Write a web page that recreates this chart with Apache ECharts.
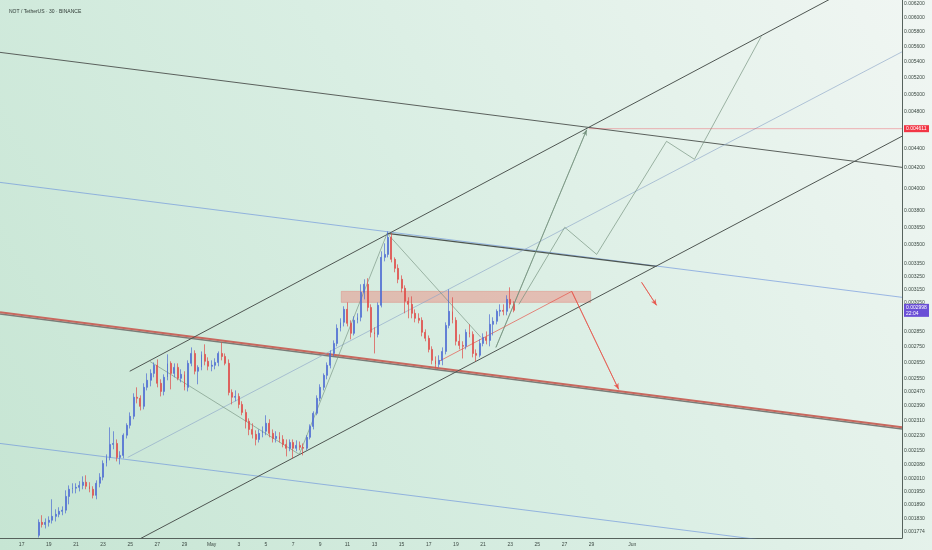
<!DOCTYPE html>
<html><head><meta charset="utf-8">
<script src="https://cdn.jsdelivr.net/npm/echarts@6.0.0/dist/echarts.min.js"></script>
<style>html,body{margin:0;padding:0;width:932px;height:550px;overflow:hidden}#c{width:932px;height:550px}</style>
</head><body><div id="c"></div>
<script>
// ---- chart data (prices are in millionths of USDT) ----
const TITLE = 'NOT / TetherUS · 30 · BINANCE';
const PRICE_UNIT = 1e-6;
const candleStart = '2025-04-18T06:00:00Z';
const candleHours = 6;
// [open, close, low, high]
const candles = [
[1759,1814,1750,1827],[1814,1805,1792,1845],[1805,1814,1788,1831],[1814,1823,1796,1840],[1823,1840,1809,1916],
[1840,1849,1818,1871],[1849,1862,1836,1880],[1862,1867,1845,1884],[1867,1929,1853,1957],[1929,1962,1893,1980],
[1962,1967,1943,1990],[1967,1971,1943,1990],[1971,1980,1952,2000],[1980,1995,1962,2023],[1995,1976,1962,2028],
[1976,1962,1948,1995],[1962,1934,1920,1976],[1934,1990,1916,2004],[1990,2019,1971,2038],[2019,2086,2004,2101],
[2086,2116,2071,2131],[2116,2182,2101,2272],[2182,2187,2157,2251],[2187,2116,2096,2208],[2116,2126,2081,2147],
[2126,2230,2111,2240],[2230,2283,2213,2294],[2283,2332,2266,2354],[2332,2440,2316,2463],[2440,2434,2405,2498],
[2434,2388,2365,2451],[2388,2498,2371,2522],[2498,2540,2480,2582],[2540,2582,2504,2607],[2582,2632,2558,2650],
[2632,2522,2498,2669],[2522,2474,2445,2546],[2474,2558,2451,2576],[2558,2644,2540,2701],[2644,2582,2486,2657],
[2582,2619,2558,2644],[2619,2552,2540,2644],[2552,2576,2528,2607],[2576,2498,2480,2595],[2498,2644,2474,2663],
[2644,2707,2626,2746],[2707,2595,2576,2727],[2595,2619,2516,2632],[2619,2701,2601,2720],[2701,2657,2632,2766],
[2657,2626,2601,2682],[2626,2632,2595,2663],[2632,2650,2607,2676],[2650,2707,2626,2720],[2707,2688,2663,2779],
[2688,2644,2632,2707],[2644,2468,2451,2669],[2468,2440,2399,2486],[2440,2445,2417,2480],[2445,2399,2377,2463],
[2399,2354,2338,2417],[2354,2305,2266,2371],[2305,2261,2230,2321],[2261,2235,2213,2294],[2235,2208,2177,2256],
[2208,2240,2192,2261],[2240,2251,2219,2277],[2251,2294,2230,2338],[2294,2240,2219,2316],[2240,2213,2192,2261],
[2213,2224,2192,2251],[2224,2208,2192,2246],[2208,2182,2167,2230],[2182,2162,2121,2208],[2162,2192,2147,2208],
[2192,2162,2111,2208],[2162,2177,2147,2203],[2177,2167,2152,2197],[2167,2162,2126,2187],[2162,2219,2152,2230],
[2219,2277,2208,2288],[2277,2349,2261,2360],[2349,2434,2338,2451],[2434,2498,2417,2516],[2498,2570,2480,2582],
[2570,2632,2546,2650],[2632,2707,2613,2727],[2707,2772,2688,2792],[2772,2873,2753,2900],[2873,2914,2852,2942],
[2914,3005,2886,3027],[3005,2907,2886,3055],[2907,2839,2799,2928],[2839,2928,2825,2956],[2928,2949,2907,2977],
[2949,3129,2921,3189],[3129,3189,3077,3227],[3189,3019,2991,3235],[3019,2846,2812,3041],[2846,2832,2707,2880],
[2832,3034,2812,3055],[3034,3399,3019,3448],[3399,3423,3367,3514],[3423,3564,3399,3615],[3564,3383,3359,3598],
[3383,3312,3281,3399],[3312,3227,3197,3343],[3227,3159,3129,3257],[3159,3063,2977,3181],[3063,3041,2942,3092],
[3041,2977,2942,3099],[2977,2942,2914,3005],[2942,2928,2907,2977],[2928,2846,2819,2949],[2846,2806,2786,2866],
[2806,2733,2714,2825],[2733,2663,2638,2753],[2663,2638,2613,2688],[2638,2663,2619,2695],[2663,2720,2632,2746],
[2720,2893,2701,2914],[2893,2991,2873,3151],[2991,2928,2907,3092],[2928,2786,2759,2949],[2786,2759,2733,2832],
[2759,2753,2675,2786],[2753,2846,2733,2866],[2846,2832,2812,2900],[2832,2707,2682,2852],[2707,2695,2657,2733],
[2695,2772,2682,2799],[2772,2812,2753,2839],[2812,2792,2766,2852],[2792,2900,2753,2970],[2900,2921,2825,2949],
[2921,2991,2900,3005],[2991,2998,2956,3041],[2998,2991,2963,3041],[2991,3077,2963,3107],[3077,3041,3012,3166],
[3041,2998,2984,3063]
];
const currentPrice = 2998;
const countdown = '22:04';
const tpPrice = 4611;

// axes
const xRange = ['2025-04-15T09:42:00Z', '2025-06-20T21:00:00Z'];
const yRange = [1748, 6255];
const yTickValues = [6200,6000,5800,5600,5400,5200,5000,4800,4611,4400,4200,4000,3800,3650,3500,3350,3250,3150,3050,2998,2850,2750,2650,2550,2470,2390,2310,2230,2150,2080,2010,1950,1890,1830,1774];
const xTickDates = ['2025-04-17','2025-04-19','2025-04-21','2025-04-23','2025-04-25','2025-04-27','2025-04-29','2025-05-01','2025-05-03','2025-05-05','2025-05-07','2025-05-09','2025-05-11','2025-05-13','2025-05-15','2025-05-17','2025-05-19','2025-05-21','2025-05-23','2025-05-25','2025-05-27','2025-05-29','2025-06-01'];
const xTickLabels = ['17','19','21','23','25','27','29','May','3','5','7','9','11','13','15','17','19','21','23','25','27','29','Jun'];

// drawings: [time, price] points
const upperChannel = [['2025-04-24T23:07:00Z', 2595], ['2025-06-20T21:00:00Z', 6863]];
const lowerChannel = [['2025-04-24T19:35:00Z', 1718], ['2025-06-20T21:00:00Z', 4529]];
const channelMid   = [['2025-04-24T19:35:00Z', 2116], ['2025-06-20T21:00:00Z', 5532]];
const trendTop     = [['2025-04-15T09:42:00Z', 5525], ['2025-06-20T21:00:00Z', 4207]];
const trendBlue    = [['2025-04-15T09:42:00Z', 4060], ['2025-06-20T21:00:00Z', 3092]];
const trendBlueDark= [['2025-05-13T22:25:00Z', 3598], ['2025-06-02T18:53:00Z', 3327]];
const trendRed     = [['2025-04-15T09:42:00Z', 2984], ['2025-06-20T21:00:00Z', 2272]];
const trendRedEdge = [['2025-04-15T09:42:00Z', 2972], ['2025-06-20T21:00:00Z', 2263]];
const trendLow     = [['2025-04-15T09:42:00Z', 2187], ['2025-06-20T21:00:00Z', 1668]];
const patternLine  = [['2025-04-26T10:25:00Z', 2657], ['2025-05-07T11:07:00Z', 2131], ['2025-05-13T22:25:00Z', 3598], ['2025-05-20T20:18:00Z', 2812]];
const projectionA  = [['2025-05-21T22:47:00Z', 2746], ['2025-05-28T15:22:00Z', 4600]];
const projectionB  = [['2025-05-23T15:22:00Z', 3041], ['2025-05-27T00:32:00Z', 3650], ['2025-05-29T09:00:00Z', 3423], ['2025-06-03T12:32:00Z', 4475], ['2025-06-05T13:57:00Z', 4288], ['2025-06-10T12:10:00Z', 5739]];
const bearPath     = [['2025-05-17T18:10:00Z', 2657], ['2025-05-27T12:53:00Z', 3136], ['2025-05-30T23:50:00Z', 2486]];
const bearArrow    = [['2025-06-01T16:25:00Z', 3204], ['2025-06-02T18:53:00Z', 3034]];
const tpLevel      = [['2025-05-28T18:53:00Z', tpPrice], ['2025-06-20T21:00:00Z', tpPrice]];
const tpText       = ['2025-05-28T03:00:00Z', 4748];
const resistanceZone = [['2025-05-10T13:14:00Z', 3136], ['2025-05-28T22:25:00Z', 3055]];

// ---- build ----
const T = s => Date.parse(s);
const pts = arr => arr.map(p => [T(p[0]), p[1]]);
const start = T(candleStart);
const candleData = candles.map((c, i) => [start + i * candleHours * 3600000, c[0], c[1], c[2], c[3]]);
const xTickTimes = xTickDates.map(d => T(d + 'T00:00:00Z'));
const xLabelMap = {};
xTickTimes.forEach((t, i) => { xLabelMap[t] = xTickLabels[i]; });

function lineSeries(name, arr, color, width, extra) {
  return Object.assign({
    name, type: 'line', data: pts(arr), showSymbol: false, symbol: 'none', silent: true,
    lineStyle: { color, width }, z: 3, animation: false, clip: true
  }, extra || {});
}
function arrowHead(arr, color, width) {
  const n = arr.length;
  return {
    silent: true, symbol: ['none', 'arrow'], symbolSize: [4, 6], animation: false,
    label: { show: false }, lineStyle: { color, width, type: 'solid' },
    data: [[{ coord: [T(arr[n - 2][0]), arr[n - 2][1]] }, { coord: [T(arr[n - 1][0]), arr[n - 1][1]] }]]
  };
}

const chart = echarts.init(document.getElementById('c'), null, { renderer: 'canvas' });
const option = {
  animation: false,
  backgroundColor: { type: 'linear', x: 1, y: 0, x2: 0, y2: 1, colorStops: [
    { offset: 0, color: '#f1f6f3' }, { offset: 0.5, color: '#d9eee3' }, { offset: 1, color: '#c6e5d3' } ] },
  title: { text: TITLE, left: 4, top: 4, textStyle: { fontSize: 5, fontWeight: 'normal', color: '#2f3a35', fontFamily: 'Liberation Sans' } },
  grid: { left: 0, right: 28, top: 0, bottom: 12, containLabel: false },
  xAxis: {
    type: 'value', min: T(xRange[0]), max: T(xRange[1]),
    axisLine: { show: true, lineStyle: { color: '#56625c', width: 1 } },
    axisTick: { show: false }, splitLine: { show: false },
    axisLabel: { customValues: xTickTimes, formatter: v => xLabelMap[v] || '', fontSize: 5, color: '#3d4a44', margin: 4, fontFamily: 'Liberation Sans' }
  },
  yAxis: {
    type: 'log', position: 'right', min: yRange[0], max: yRange[1],
    axisLine: { show: true, lineStyle: { color: '#56625c', width: 1 } },
    axisTick: { show: false }, splitLine: { show: false },
    axisLabel: {
      customValues: yTickValues, fontSize: 5, color: '#3d4a44', margin: 2, fontFamily: 'Liberation Sans',
      formatter: v => {
        const s = (v * PRICE_UNIT).toFixed(6);
        if (Math.abs(v - tpPrice) < 0.5) return '{tp|' + s + '}';
        if (Math.abs(v - currentPrice) < 0.5) return '{cur|' + s + '}\n{cur|' + countdown + '}';
        return s;
      },
      rich: {
        tp: { backgroundColor: '#f23645', color: '#fff', padding: [1, 2], fontSize: 5, width: 21, fontFamily: 'Liberation Sans' },
        cur: { backgroundColor: '#6a4fd6', color: '#fff', padding: [1, 2], fontSize: 5, width: 21, lineHeight: 6, fontFamily: 'Liberation Sans' }
      }
    }
  },
  series: [
    lineSeries('trendTop', trendTop, '#5a605c', 1),
    lineSeries('trendBlue', trendBlue, 'rgba(100,140,220,0.6)', 1),
    lineSeries('trendBlueDark', trendBlueDark, '#4d5550', 1.2),
    lineSeries('trendRedEdge', trendRedEdge, '#7a7c78', 1.6),
    lineSeries('trendRed', trendRed, '#c8685e', 2),
    lineSeries('trendLow', trendLow, 'rgba(100,140,220,0.6)', 1),
    lineSeries('upperChannel', upperChannel, '#4f5652', 1),
    lineSeries('lowerChannel', lowerChannel, '#4f5652', 1),
    lineSeries('channelMid', channelMid, 'rgba(140,165,200,0.8)', 0.8),
    lineSeries('patternLine', patternLine, 'rgba(110,140,120,0.75)', 0.8),
    lineSeries('projectionA', projectionA, 'rgba(110,140,120,0.8)', 0.8, { markLine: arrowHead(projectionA, 'rgba(110,140,120,0.8)', 0.8) }),
    lineSeries('projectionB', projectionB, 'rgba(110,140,120,0.8)', 0.8),
    lineSeries('bearPath', bearPath, 'rgba(230,80,70,0.85)', 0.8, { markLine: arrowHead(bearPath, 'rgba(230,80,70,0.85)', 0.8) }),
    lineSeries('bearArrow', bearArrow, 'rgba(230,80,70,0.85)', 0.8, { markLine: arrowHead(bearArrow, 'rgba(230,80,70,0.85)', 0.8) }),
    lineSeries('tpLevel', tpLevel, 'rgba(242,54,69,0.45)', 0.8),
    {
      name: 'zone', type: 'line', data: [], silent: true, z: 1,
      markArea: { silent: true, itemStyle: { color: 'rgba(240,110,100,0.38)', borderColor: 'rgba(225,95,85,0.5)', borderWidth: 0.5 },
        data: [[{ coord: [T(resistanceZone[0][0]), resistanceZone[0][1]] }, { coord: [T(resistanceZone[1][0]), resistanceZone[1][1]] }]] }
    },
    {
      name: 'price', type: 'candlestick', data: candleData, encode: { x: 0, y: [1, 2, 3, 4] },
      barWidth: 1.4, z: 4, silent: true,
      itemStyle: { color: '#4d6bd3', color0: '#e04a48', borderColor: '#4d6bd3', borderColor0: '#e04a48', borderWidth: 0.7 }
    },
    {
      name: 'tpText', type: 'scatter', data: [[T(tpText[0]), tpText[1]]], symbolSize: 1, itemStyle: { opacity: 0 }, silent: true, z: 6,
      label: { show: true, position: 'inside', formatter: 'TP', color: '#e5392f', fontStyle: 'italic', fontWeight: 'bold', fontSize: 8, fontFamily: 'Liberation Sans' }
    }
  ]
};
chart.setOption(option);
</script></body></html>
